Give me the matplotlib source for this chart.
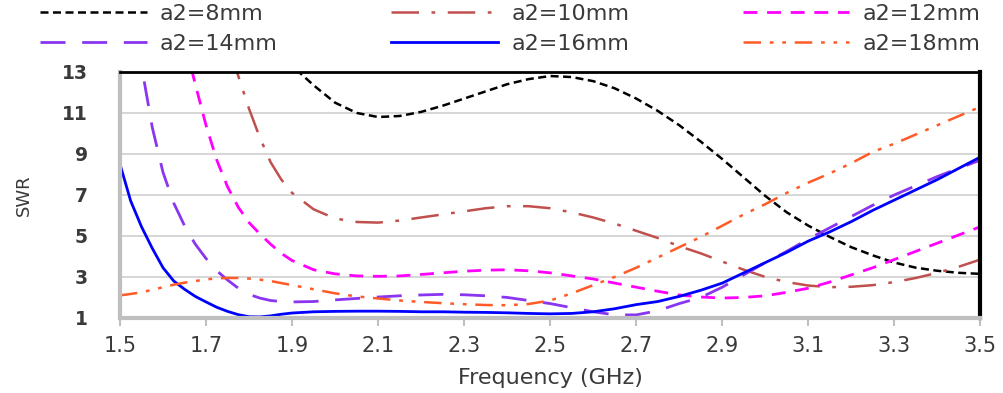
import numpy as np
import matplotlib.pyplot as plt

# frequency grid (GHz), finer where the curves drop steeply
freq = [1.500, 1.525, 1.550, 1.575, 1.600, 1.625, 1.650, 1.675, 1.700, 1.725,
        1.750, 1.775, 1.800, 1.825, 1.850, 1.875, 1.900, 1.95,
        2.00, 2.05, 2.10, 2.15, 2.20, 2.25, 2.30, 2.35, 2.40, 2.45,
        2.50, 2.55, 2.60, 2.65, 2.70, 2.75, 2.80, 2.85, 2.90, 2.95,
        3.00, 3.05, 3.10, 3.15, 3.20, 3.25, 3.30, 3.35, 3.40, 3.45, 3.50]

swr_8 = [30, 28.5, 27, 25.5, 24, 22.5, 21, 19.7, 18.5, 17.5,
         16.5, 15.7, 15, 14.5, 14, 13.6, 13.3, 12.35,
         11.5, 11.0, 10.8, 10.85, 11.05, 11.35, 11.7, 12.05, 12.4, 12.65,
         12.8, 12.75, 12.55, 12.2, 11.7, 11.1, 10.4, 9.6, 8.75, 7.85,
         6.95, 6.15, 5.5, 4.95, 4.45, 4.05, 3.7, 3.45, 3.3, 3.2, 3.15]

swr_10 = [40, 36, 33, 30, 27, 24.5, 22, 20, 18, 16.2,
          14.5, 12.8, 11.2, 9.8, 8.6, 7.75, 7.1, 6.3,
          5.85, 5.68, 5.65, 5.75, 5.9, 6.05, 6.2, 6.35, 6.45, 6.45,
          6.35, 6.15, 5.9, 5.6, 5.25, 4.9, 4.5, 4.15, 3.75, 3.35,
          3.0, 2.75, 2.58, 2.5, 2.52, 2.6, 2.75, 2.95, 3.2, 3.5, 3.85]

swr_12 = [30, 27, 24, 21, 19, 17, 14.5, 12.4, 10.4, 8.7,
          7.4, 6.4, 5.65, 5.1, 4.6, 4.15, 3.8, 3.35,
          3.15, 3.05, 3.03, 3.05, 3.12, 3.2, 3.28, 3.33, 3.35, 3.3,
          3.2, 3.05, 2.9, 2.7, 2.5, 2.3, 2.12, 2.02, 1.97, 2.0,
          2.08, 2.25, 2.45, 2.75, 3.1, 3.45, 3.85, 4.25, 4.65, 5.05, 5.45]

swr_14 = [22, 17, 13.3, 10.3, 8.1, 6.6, 5.5, 4.6, 3.9, 3.3,
          2.85, 2.45, 2.15, 1.97, 1.85, 1.8, 1.78, 1.8,
          1.88, 1.95, 2.02, 2.08, 2.12, 2.15, 2.13, 2.08, 2.0, 1.85,
          1.7, 1.5, 1.3, 1.15, 1.15, 1.35, 1.7, 2.0, 2.5, 3.1,
          3.7, 4.25, 4.85, 5.4, 5.95, 6.5, 7.0, 7.45, 7.9, 8.3, 8.7]

swr_16 = [8.5, 6.7, 5.45, 4.4, 3.45, 2.8, 2.4, 2.05, 1.78, 1.52,
          1.32, 1.16, 1.06, 1.05, 1.1, 1.18, 1.24, 1.3,
          1.32, 1.33, 1.33, 1.32, 1.3, 1.3, 1.28, 1.27, 1.25, 1.22,
          1.2, 1.22, 1.3, 1.45, 1.65, 1.8, 2.05, 2.35, 2.7, 3.2,
          3.7, 4.2, 4.75, 5.2, 5.7, 6.25, 6.75, 7.25, 7.75, 8.3, 8.85]

swr_18 = [2.1, 2.17, 2.25, 2.37, 2.5, 2.62, 2.72, 2.8, 2.88, 2.93,
          2.95, 2.95, 2.92, 2.87, 2.8, 2.7, 2.6, 2.4,
          2.2, 2.05, 1.95, 1.85, 1.78, 1.72, 1.67, 1.63, 1.62, 1.68,
          1.85, 2.2, 2.6, 3.0, 3.45, 3.95, 4.45, 4.95, 5.5, 6.05,
          6.55, 7.1, 7.6, 8.05, 8.55, 9.1, 9.5, 9.95, 10.4, 10.85, 11.3]

labels = ['a2=8mm', 'a2=10mm', 'a2=12mm', 'a2=14mm', 'a2=16mm', 'a2=18mm']
xticks = [1.5, 1.7, 1.9, 2.1, 2.3, 2.5, 2.7, 2.9, 3.1, 3.3, 3.5]
yticks = [1, 3, 5, 7, 9, 11, 13]

plt.rcParams['font.family'] = ['DejaVu Sans']
txt = '#3a3a3a'

fig = plt.figure(figsize=(10.04, 3.93), dpi=100)
ax = fig.add_axes([0.1195, 0.191, 0.857, 0.626])

for y in yticks:
    ax.axhline(y, color='#d0d0d0', lw=1.2, zorder=0)

l8, = ax.plot(freq, swr_8, color='black', lw=1.8, ls=(0, (3.2, 1.8)))
l10, = ax.plot(freq, swr_10, color='#c0504d', lw=1.8, ls=(0, (11, 5, 1.5, 5)))
l12, = ax.plot(freq, swr_12, color='#ff00ff', lw=2, ls=(0, (5, 3.5)))
l14, = ax.plot(freq, swr_14, color='#8a35f0', lw=2, ls=(0, (9, 6)))
l16, = ax.plot(freq, swr_16, color='#0000ff', lw=2)
l18, = ax.plot(freq, swr_18, color='#ff5a28', lw=1.8, ls=(0, (7, 3.5, 1.5, 3.5, 1.5, 3.5)))

ax.set_xlim(1.5, 3.5)
ax.set_ylim(1, 13)
ax.set_xticks(xticks)
ax.set_xticklabels([f'{t:.1f}' for t in xticks], fontsize=15, color=txt)
ax.set_yticks(yticks)
ax.set_yticklabels([str(t) for t in yticks], fontsize=13.5, color=txt, fontweight='bold')
ax.tick_params(axis='y', length=0, pad=23)
ax.tick_params(axis='x', length=6, width=1.5, color='#c0c0c0', pad=7)

ax.spines['left'].set_color('#bfbfbf')
ax.spines['left'].set_linewidth(3)
ax.spines['bottom'].set_color('#bfbfbf')
ax.spines['bottom'].set_linewidth(3)
ax.spines['top'].set_color('black')
ax.spines['top'].set_linewidth(2)
ax.spines['right'].set_color('black')
ax.spines['right'].set_linewidth(3)

ax.set_xlabel('Frequency (GHz)', fontsize=16, color=txt, labelpad=9)
ax.set_ylabel('SWR', fontsize=13, color=txt)
ax.yaxis.set_label_coords(-0.101, 0.5)

handles = [l8, l14, l10, l16, l12, l18]
leg_labels = [labels[0], labels[3], labels[1], labels[4], labels[2], labels[5]]
fig.legend(handles, leg_labels, ncol=3, loc='upper left',
           bbox_to_anchor=(40 / 1004, 1 - 4 / 393),
           frameon=False, fontsize=16, borderpad=0, borderaxespad=0,
           handlelength=4.8, handletextpad=0.6, columnspacing=5.1,
           labelspacing=0.45, labelcolor=txt)

fig.savefig('out.png', dpi=100)
